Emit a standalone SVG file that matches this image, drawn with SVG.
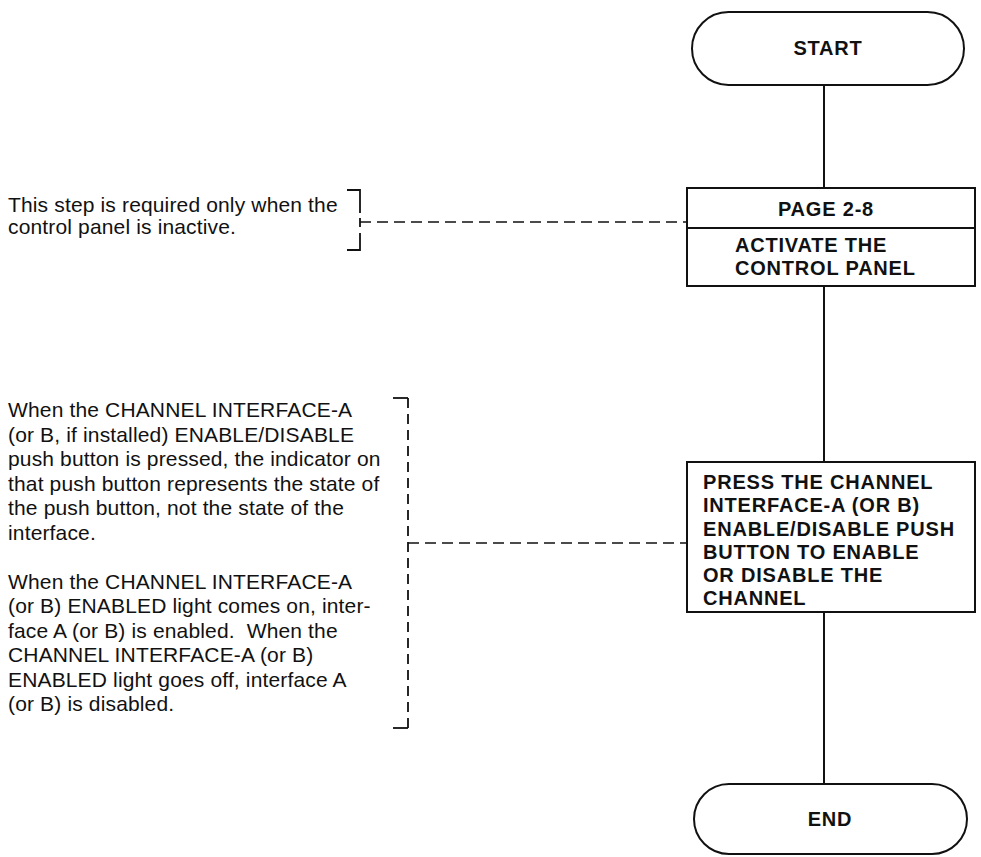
<svg xmlns="http://www.w3.org/2000/svg" width="981" height="857" viewBox="0 0 981 857">
<style>
.box{fill:#fff;stroke:#111;stroke-width:2}
.flow{stroke:#111;stroke-width:2;fill:none}
.dash{stroke:#111;stroke-width:1.6;fill:none;stroke-dasharray:11 6}
.brk{stroke:#111;stroke-width:1.8;fill:none}
.lbl{font-family:"Liberation Sans",Arial,sans-serif;font-weight:bold;font-size:20px;letter-spacing:0.8px;fill:#111}
.note{font-family:"Liberation Sans",Arial,sans-serif;font-size:21px;letter-spacing:0.15px;fill:#111}
</style>
<rect width="981" height="857" fill="#fff"/>
<g id="connectors">
<line class="flow" x1="824" y1="85" x2="824" y2="188"/>
<line class="flow" x1="824" y1="286" x2="824" y2="462"/>
<line class="flow" x1="824" y1="612" x2="824" y2="784"/>
<line class="dash" x1="360" y1="222" x2="687" y2="222"/>
<line class="dash" x1="408" y1="543" x2="687" y2="543"/>
</g>
<g id="start">
<rect class="box" x="692" y="12" width="272" height="73" rx="36.5" ry="36.5"/>
<text class="lbl" x="828" y="55" text-anchor="middle">START</text>
</g>
<g id="activate">
<rect class="box" x="687" y="188" width="288" height="98"/>
<line class="flow" x1="687" y1="228" x2="975" y2="228"/>
<text class="lbl" x="826" y="216" text-anchor="middle">PAGE 2-8</text>
<text class="lbl" x="735" y="252">ACTIVATE THE</text>
<text class="lbl" x="735" y="275">CONTROL PANEL</text>
</g>
<g id="press">
<rect class="box" x="687" y="462" width="288" height="150"/>
<text class="lbl" x="703" y="489">PRESS THE CHANNEL</text>
<text class="lbl" x="703" y="512">INTERFACE-A (OR B)</text>
<text class="lbl" x="703" y="535.5">ENABLE/DISABLE PUSH</text>
<text class="lbl" x="703" y="558.5">BUTTON TO ENABLE</text>
<text class="lbl" x="703" y="581.5">OR DISABLE THE</text>
<text class="lbl" x="703" y="604.5">CHANNEL</text>
</g>
<g id="end">
<rect class="box" x="694" y="784" width="273" height="70" rx="35" ry="35"/>
<text class="lbl" x="830" y="826" text-anchor="middle">END</text>
</g>
<g id="note1">
<path class="brk" d="M347,190 H360 V213 M360,218 V227 M360,233 V250 H347"/>
<text class="note" x="8" y="212">This step is required only when the</text>
<text class="note" x="8" y="233.5">control panel is inactive.</text>
</g>
<g id="note2">
<path class="brk" d="M393,398 H408"/>
<line class="brk" x1="408" y1="398" x2="408" y2="728" style="stroke-dasharray:10 6"/>
<path class="brk" d="M408,728 H393"/>
<text class="note" x="8" y="417">When the CHANNEL INTERFACE-A</text>
<text class="note" x="8" y="441.5">(or B, if installed) ENABLE/DISABLE</text>
<text class="note" x="8" y="466">push button is pressed, the indicator on</text>
<text class="note" x="8" y="490.5">that push button represents the state of</text>
<text class="note" x="8" y="515">the push button, not the state of the</text>
<text class="note" x="8" y="539.5">interface.</text>
<text class="note" x="8" y="588.5">When the CHANNEL INTERFACE-A</text>
<text class="note" x="8" y="613">(or B) ENABLED light comes on, inter-</text>
<text class="note" x="8" y="637.5">face A (or B) is enabled.&#160; When the</text>
<text class="note" x="8" y="662">CHANNEL INTERFACE-A (or B)</text>
<text class="note" x="8" y="686.5">ENABLED light goes off, interface A</text>
<text class="note" x="8" y="711">(or B) is disabled.</text>
</g>
</svg>
